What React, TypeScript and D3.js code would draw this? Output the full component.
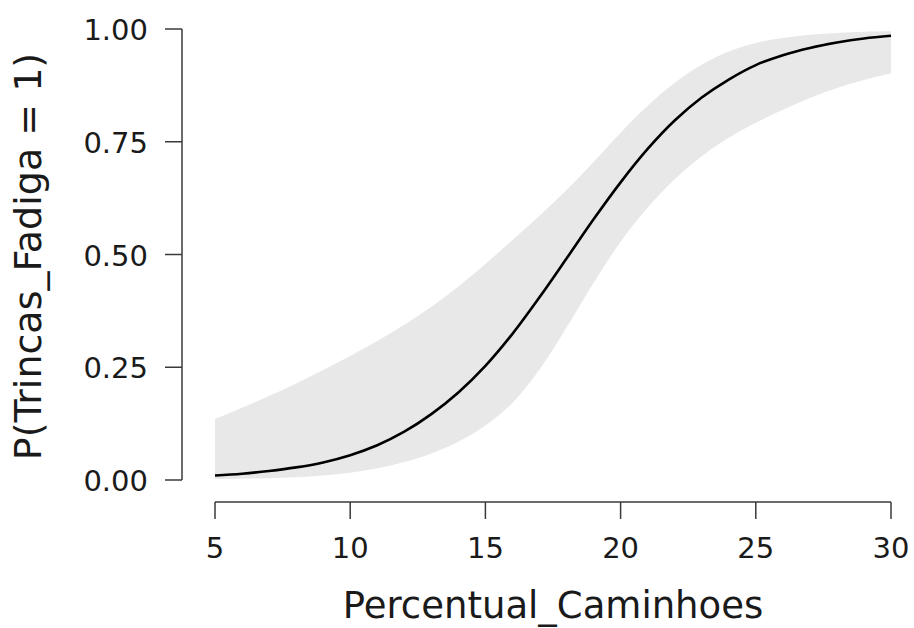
import React from "react";
import * as d3 from "d3";

const xValues = [5, 6, 7, 8, 9, 10, 11, 12, 13, 14, 15, 16, 17, 18, 19, 20, 21, 22, 23, 24, 25, 26, 27, 28, 29, 30];
const fitValues = [0.010, 0.014, 0.020, 0.028, 0.039, 0.055, 0.077, 0.107, 0.146, 0.194, 0.253, 0.324, 0.405, 0.491, 0.578, 0.660, 0.734, 0.797, 0.848, 0.888, 0.920, 0.942, 0.958, 0.970, 0.979, 0.985];
const lowerValues = [0.002, 0.003, 0.004, 0.006, 0.010, 0.016, 0.026, 0.040, 0.059, 0.085, 0.121, 0.171, 0.245, 0.338, 0.437, 0.528, 0.604, 0.667, 0.718, 0.759, 0.792, 0.821, 0.847, 0.869, 0.887, 0.902];
const upperValues = [0.135, 0.160, 0.186, 0.214, 0.244, 0.275, 0.308, 0.344, 0.384, 0.429, 0.479, 0.532, 0.586, 0.643, 0.705, 0.770, 0.830, 0.881, 0.921, 0.950, 0.969, 0.980, 0.987, 0.991, 0.994, 0.995];

const xTicks = [5, 10, 15, 20, 25, 30];
const yTicks = [0, 0.25, 0.5, 0.75, 1];
const xTitle = "Percentual_Caminhoes";
const yTitle = "P(Trincas_Fadiga = 1)";

export default function App() {
  const W = 914;
  const H = 628;
  const x = d3.scaleLinear().domain([5, 30]).range([215, 891]);
  const y = d3.scaleLinear().domain([0, 1]).range([480, 29]);
  const axisX = 182;
  const axisY = 502;
  const font = "'DejaVu Sans', 'Liberation Sans', sans-serif";

  const idx = xValues.map((_, i) => i);
  const curve = d3.curveCatmullRom.alpha(0.5);
  const area = d3
    .area<number>()
    .x((i) => x(xValues[i]))
    .y0((i) => y(lowerValues[i]))
    .y1((i) => y(upperValues[i]))
    .curve(curve);
  const line = d3
    .line<number>()
    .x((i) => x(xValues[i]))
    .y((i) => y(fitValues[i]))
    .curve(curve);

  const axisColor = "#3a3a3a";

  return (
    <svg width={W} height={H} style={{ position: "absolute", left: 0, top: 0, background: "#fff" }}>
      <path d={area(idx) || ""} fill="#e8e8e8" stroke="none" />
      <path d={line(idx) || ""} fill="none" stroke="#000" strokeWidth={2.6} />

      {/* y axis */}
      <line x1={axisX} x2={axisX} y1={y(1)} y2={y(0)} stroke={axisColor} strokeWidth={1.5} />
      {yTicks.map((t) => (
        <g key={"y" + t}>
          <line x1={axisX - 17} x2={axisX} y1={y(t)} y2={y(t)} stroke={axisColor} strokeWidth={1.5} />
          <text
            x={148}
            y={y(t) + 11}
            textAnchor="end"
            fontFamily={font}
            fontSize={29}
            fill="#1a1a1a"
          >
            {d3.format(".2f")(t)}
          </text>
        </g>
      ))}

      {/* x axis */}
      <line x1={x(5)} x2={x(30)} y1={axisY} y2={axisY} stroke={axisColor} strokeWidth={1.5} />
      {xTicks.map((t) => (
        <g key={"x" + t}>
          <line x1={x(t)} x2={x(t)} y1={axisY} y2={axisY + 17} stroke={axisColor} strokeWidth={1.5} />
          <text
            x={x(t)}
            y={558}
            textAnchor="middle"
            fontFamily={font}
            fontSize={29}
            fill="#1a1a1a"
          >
            {t}
          </text>
        </g>
      ))}

      <text
        x={(x(5) + x(30)) / 2}
        y={618}
        textAnchor="middle"
        fontFamily={font}
        fontSize={37}
        fill="#1a1a1a"
      >
        {xTitle}
      </text>
      <text
        transform={`translate(41, ${(y(0) + y(1)) / 2 + 2}) rotate(-90)`}
        textAnchor="middle"
        fontFamily={font}
        fontSize={38}
        fill="#1a1a1a"
      >
        {yTitle}
      </text>
    </svg>
  );
}
